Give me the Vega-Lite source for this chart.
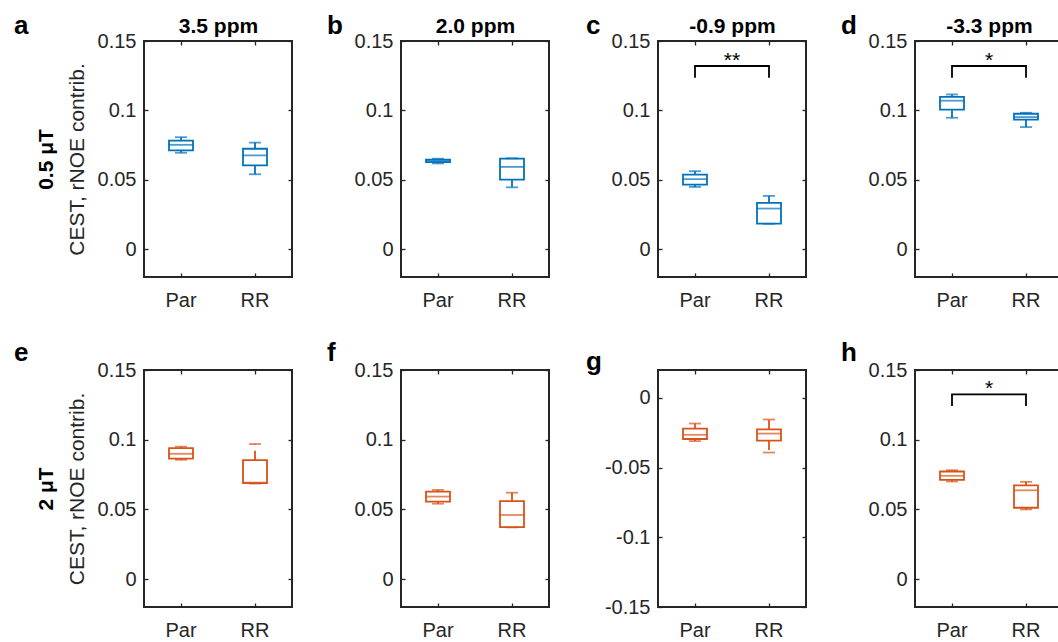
{
"$schema":"https://vega.github.io/schema/vega-lite/v6.json",
"padding":{"left":13,"top":12,"right":0,"bottom":0},
"background":"#ffffff",
"datasets":{
"boxes":[
{"panel":"a","b1":"0.5 μT","group":"Par","min":0.0695,"q1":0.0712,"median":0.0752,"q3":0.0782,"max":0.0807},
{"panel":"a","b1":"0.5 μT","group":"RR","min":0.054,"q1":0.0604,"median":0.0676,"q3":0.0724,"max":0.0768},
{"panel":"b","b1":"0.5 μT","group":"Par","min":0.0618,"q1":0.0627,"median":0.0636,"q3":0.0645,"max":0.0652},
{"panel":"b","b1":"0.5 μT","group":"RR","min":0.0446,"q1":0.0501,"median":0.0593,"q3":0.0653,"max":0.0655},
{"panel":"c","b1":"0.5 μT","group":"Par","min":0.0449,"q1":0.0465,"median":0.0505,"q3":0.0538,"max":0.0562},
{"panel":"c","b1":"0.5 μT","group":"RR","min":0.0183,"q1":0.0185,"median":0.0293,"q3":0.0334,"max":0.0384},
{"panel":"d","b1":"0.5 μT","group":"Par","min":0.0947,"q1":0.1005,"median":0.107,"q3":0.1098,"max":0.1115},
{"panel":"d","b1":"0.5 μT","group":"RR","min":0.088,"q1":0.0933,"median":0.0952,"q3":0.0976,"max":0.0983},
{"panel":"e","b1":"2 μT","group":"Par","min":0.0856,"q1":0.0864,"median":0.0899,"q3":0.0939,"max":0.095},
{"panel":"e","b1":"2 μT","group":"RR","min":0.0685,"q1":0.0688,"median":0.0692,"q3":0.0853,"max":0.0969},
{"panel":"f","b1":"2 μT","group":"Par","min":0.0541,"q1":0.0556,"median":0.0592,"q3":0.0628,"max":0.064},
{"panel":"f","b1":"2 μT","group":"RR","min":0.0371,"q1":0.0373,"median":0.046,"q3":0.056,"max":0.062},
{"panel":"g","b1":"2 μT","group":"Par","min":-0.031,"q1":-0.0295,"median":-0.0265,"q3":-0.022,"max":-0.0184},
{"panel":"g","b1":"2 μT","group":"RR","min":-0.0392,"q1":-0.0306,"median":-0.0256,"q3":-0.0226,"max":-0.0155},
{"panel":"h","b1":"2 μT","group":"Par","min":0.07,"q1":0.0712,"median":0.0741,"q3":0.0772,"max":0.0781},
{"panel":"h","b1":"2 μT","group":"RR","min":0.05,"q1":0.0512,"median":0.0637,"q3":0.0673,"max":0.0698}
],
"bracket":[
{"panel":"c","group":"Par","step":1,"y":0.1235},{"panel":"c","group":"Par","step":2,"y":0.132},{"panel":"c","group":"RR","step":3,"y":0.132},{"panel":"c","group":"RR","step":4,"y":0.1235},
{"panel":"d","group":"Par","step":1,"y":0.1235},{"panel":"d","group":"Par","step":2,"y":0.132},{"panel":"d","group":"RR","step":3,"y":0.132},{"panel":"d","group":"RR","step":4,"y":0.1235},
{"panel":"h","group":"Par","step":1,"y":0.1241},{"panel":"h","group":"Par","step":2,"y":0.1325},{"panel":"h","group":"RR","step":3,"y":0.1325},{"panel":"h","group":"RR","step":4,"y":0.1241}
],
"stars":[
{"panel":"c","group":"Par","y":0.132,"star":"**"},
{"panel":"d","group":"Par","y":0.132,"star":"*"},
{"panel":"h","group":"Par","y":0.1325,"star":"*"}
]
},
"concat":[
{"width":148,"height":236,"data":{"name":"boxes"},"transform":[{"filter":"datum.panel==='a'"}],
 "title":{"text":"a","anchor":"start","frame":"group","dx":-130,"dy":45,"fontSize":26,"baseline":"alphabetic","offset":0},
 "layer":[
  {"mark":{"type":"rule","strokeWidth":1.8,"strokeDash":[9.5,6]},"encoding":{"x":{"field":"group","type":"nominal","scale":{"type":"band","domain":["Par","RR"],"paddingInner":0,"paddingOuter":0},"axis":{"orient":"bottom","title":null}},"y":{"field":"q3","type":"quantitative","scale":{"domain":[-0.02,0.15],"nice":false,"zero":false},"axis":{"orient":"left","values":[0,0.05,0.1,0.15],"labelExpr":"''+datum.value","title":"CEST, rNOE contrib."}},"y2":{"field":"max"},"color":{"field":"b1","type":"nominal","scale":{"domain":["0.5 μT","2 μT"],"range":["#0072BD","#D95319"]},"legend":null}}},
  {"mark":{"type":"rule","strokeWidth":1.8,"strokeDash":[9.5,6]},"encoding":{"x":{"field":"group","type":"nominal","axis":null},"y":{"field":"q1","type":"quantitative","axis":null},"y2":{"field":"min"},"color":{"field":"b1","type":"nominal","legend":null}}},
  {"mark":{"type":"bar","width":24,"fill":"#ffffff","strokeWidth":1.8},"encoding":{"x":{"field":"group","type":"nominal","axis":null},"y":{"field":"q1","type":"quantitative","axis":null},"y2":{"field":"q3"},"stroke":{"field":"b1","type":"nominal","scale":{"domain":["0.5 μT","2 μT"],"range":["#0072BD","#D95319"]},"legend":null}}},
  {"mark":{"type":"tick","thickness":1.8,"size":24},"encoding":{"x":{"field":"group","type":"nominal","axis":null},"y":{"field":"median","type":"quantitative","axis":null},"color":{"field":"b1","type":"nominal","legend":null}}},
  {"mark":{"type":"tick","thickness":1.8,"size":12},"encoding":{"x":{"field":"group","type":"nominal","axis":null},"y":{"field":"max","type":"quantitative","axis":null},"color":{"field":"b1","type":"nominal","legend":null}}},
  {"mark":{"type":"tick","thickness":1.8,"size":12},"encoding":{"x":{"field":"group","type":"nominal","axis":null},"y":{"field":"min","type":"quantitative","axis":null},"color":{"field":"b1","type":"nominal","legend":null}}},
  {"mark":{"type":"point","opacity":0},"encoding":{"x":{"field":"group","type":"nominal","axis":{"orient":"top","labels":false,"title":"3.5 ppm","titleFontWeight":"bold","titleColor":"#000000","titlePadding":4}},"y":{"field":"median","type":"quantitative","axis":{"orient":"right","labels":false,"values":[0,0.05,0.1,0.15],"title":null}}}},
  {"mark":{"type":"point","opacity":0},"encoding":{"x":{"field":"group","type":"nominal","axis":null},"y":{"field":"median","type":"quantitative","axis":{"orient":"left","labels":false,"ticks":false,"offset":80,"title":"0.5 μT","titleFontWeight":"bold","titleColor":"#000000","titlePadding":8}}}}
 ],
 "resolve":{"axis":{"x":"independent","y":"independent"}}
},
{"width":148,"height":236,"data":{"name":"boxes"},"transform":[{"filter":"datum.panel==='b'"}],
 "title":{"text":"b","anchor":"start","frame":"group","dx":-74,"dy":45,"fontSize":26,"baseline":"alphabetic","offset":0},
 "layer":[
  {"mark":{"type":"rule","strokeWidth":1.8,"strokeDash":[9.5,6]},"encoding":{"x":{"field":"group","type":"nominal","scale":{"type":"band","domain":["Par","RR"],"paddingInner":0,"paddingOuter":0},"axis":{"orient":"bottom","title":null}},"y":{"field":"q3","type":"quantitative","scale":{"domain":[-0.02,0.15],"nice":false,"zero":false},"axis":{"orient":"left","values":[0,0.05,0.1,0.15],"labelExpr":"''+datum.value","title":null}},"y2":{"field":"max"},"color":{"field":"b1","type":"nominal","scale":{"domain":["0.5 μT","2 μT"],"range":["#0072BD","#D95319"]},"legend":null}}},
  {"mark":{"type":"rule","strokeWidth":1.8,"strokeDash":[9.5,6]},"encoding":{"x":{"field":"group","type":"nominal","axis":null},"y":{"field":"q1","type":"quantitative","axis":null},"y2":{"field":"min"},"color":{"field":"b1","type":"nominal","legend":null}}},
  {"mark":{"type":"bar","width":24,"fill":"#ffffff","strokeWidth":1.8},"encoding":{"x":{"field":"group","type":"nominal","axis":null},"y":{"field":"q1","type":"quantitative","axis":null},"y2":{"field":"q3"},"stroke":{"field":"b1","type":"nominal","scale":{"domain":["0.5 μT","2 μT"],"range":["#0072BD","#D95319"]},"legend":null}}},
  {"mark":{"type":"tick","thickness":1.8,"size":24},"encoding":{"x":{"field":"group","type":"nominal","axis":null},"y":{"field":"median","type":"quantitative","axis":null},"color":{"field":"b1","type":"nominal","legend":null}}},
  {"mark":{"type":"tick","thickness":1.8,"size":12},"encoding":{"x":{"field":"group","type":"nominal","axis":null},"y":{"field":"max","type":"quantitative","axis":null},"color":{"field":"b1","type":"nominal","legend":null}}},
  {"mark":{"type":"tick","thickness":1.8,"size":12},"encoding":{"x":{"field":"group","type":"nominal","axis":null},"y":{"field":"min","type":"quantitative","axis":null},"color":{"field":"b1","type":"nominal","legend":null}}},
  {"mark":{"type":"point","opacity":0},"encoding":{"x":{"field":"group","type":"nominal","axis":{"orient":"top","labels":false,"title":"2.0 ppm","titleFontWeight":"bold","titleColor":"#000000","titlePadding":4}},"y":{"field":"median","type":"quantitative","axis":{"orient":"right","labels":false,"values":[0,0.05,0.1,0.15],"title":null}}}}
 ],
 "resolve":{"axis":{"x":"independent","y":"independent"}}
},
{"width":148,"height":236,"data":{"name":"boxes"},"transform":[{"filter":"datum.panel==='c'"}],
 "title":{"text":"c","anchor":"start","frame":"group","dx":-72,"dy":45,"fontSize":26,"baseline":"alphabetic","offset":0},
 "layer":[
  {"mark":{"type":"rule","strokeWidth":1.8,"strokeDash":[9.5,6]},"encoding":{"x":{"field":"group","type":"nominal","scale":{"type":"band","domain":["Par","RR"],"paddingInner":0,"paddingOuter":0},"axis":{"orient":"bottom","title":null}},"y":{"field":"q3","type":"quantitative","scale":{"domain":[-0.02,0.15],"nice":false,"zero":false},"axis":{"orient":"left","values":[0,0.05,0.1,0.15],"labelExpr":"''+datum.value","title":null}},"y2":{"field":"max"},"color":{"field":"b1","type":"nominal","scale":{"domain":["0.5 μT","2 μT"],"range":["#0072BD","#D95319"]},"legend":null}}},
  {"mark":{"type":"rule","strokeWidth":1.8,"strokeDash":[9.5,6]},"encoding":{"x":{"field":"group","type":"nominal","axis":null},"y":{"field":"q1","type":"quantitative","axis":null},"y2":{"field":"min"},"color":{"field":"b1","type":"nominal","legend":null}}},
  {"mark":{"type":"bar","width":24,"fill":"#ffffff","strokeWidth":1.8},"encoding":{"x":{"field":"group","type":"nominal","axis":null},"y":{"field":"q1","type":"quantitative","axis":null},"y2":{"field":"q3"},"stroke":{"field":"b1","type":"nominal","scale":{"domain":["0.5 μT","2 μT"],"range":["#0072BD","#D95319"]},"legend":null}}},
  {"mark":{"type":"tick","thickness":1.8,"size":24},"encoding":{"x":{"field":"group","type":"nominal","axis":null},"y":{"field":"median","type":"quantitative","axis":null},"color":{"field":"b1","type":"nominal","legend":null}}},
  {"mark":{"type":"tick","thickness":1.8,"size":12},"encoding":{"x":{"field":"group","type":"nominal","axis":null},"y":{"field":"max","type":"quantitative","axis":null},"color":{"field":"b1","type":"nominal","legend":null}}},
  {"mark":{"type":"tick","thickness":1.8,"size":12},"encoding":{"x":{"field":"group","type":"nominal","axis":null},"y":{"field":"min","type":"quantitative","axis":null},"color":{"field":"b1","type":"nominal","legend":null}}},
  {"data":{"name":"bracket"},"transform":[{"filter":"datum.panel==='c'"}],"mark":{"type":"line","color":"#000000","strokeWidth":1.8},"encoding":{"x":{"field":"group","type":"nominal","axis":null},"y":{"field":"y","type":"quantitative","axis":null},"order":{"field":"step","type":"quantitative"}}},
  {"data":{"name":"stars"},"transform":[{"filter":"datum.panel==='c'"}],"mark":{"type":"text","fontSize":21,"baseline":"alphabetic","dy":1,"color":"#000000"},"encoding":{"x":{"field":"group","type":"nominal","bandPosition":1,"axis":null},"y":{"field":"y","type":"quantitative","axis":null},"text":{"field":"star"}}},
  {"mark":{"type":"point","opacity":0},"encoding":{"x":{"field":"group","type":"nominal","axis":{"orient":"top","labels":false,"title":"-0.9 ppm","titleFontWeight":"bold","titleColor":"#000000","titlePadding":4}},"y":{"field":"median","type":"quantitative","axis":{"orient":"right","labels":false,"values":[0,0.05,0.1,0.15],"title":null}}}}
 ],
 "resolve":{"axis":{"x":"independent","y":"independent"}}
},
{"width":148,"height":236,"data":{"name":"boxes"},"transform":[{"filter":"datum.panel==='d'"}],
 "title":{"text":"d","anchor":"start","frame":"group","dx":-74,"dy":45,"fontSize":26,"baseline":"alphabetic","offset":0},
 "layer":[
  {"mark":{"type":"rule","strokeWidth":1.8,"strokeDash":[9.5,6]},"encoding":{"x":{"field":"group","type":"nominal","scale":{"type":"band","domain":["Par","RR"],"paddingInner":0,"paddingOuter":0},"axis":{"orient":"bottom","title":null}},"y":{"field":"q3","type":"quantitative","scale":{"domain":[-0.02,0.15],"nice":false,"zero":false},"axis":{"orient":"left","values":[0,0.05,0.1,0.15],"labelExpr":"''+datum.value","title":null}},"y2":{"field":"max"},"color":{"field":"b1","type":"nominal","scale":{"domain":["0.5 μT","2 μT"],"range":["#0072BD","#D95319"]},"legend":null}}},
  {"mark":{"type":"rule","strokeWidth":1.8,"strokeDash":[9.5,6]},"encoding":{"x":{"field":"group","type":"nominal","axis":null},"y":{"field":"q1","type":"quantitative","axis":null},"y2":{"field":"min"},"color":{"field":"b1","type":"nominal","legend":null}}},
  {"mark":{"type":"bar","width":24,"fill":"#ffffff","strokeWidth":1.8},"encoding":{"x":{"field":"group","type":"nominal","axis":null},"y":{"field":"q1","type":"quantitative","axis":null},"y2":{"field":"q3"},"stroke":{"field":"b1","type":"nominal","scale":{"domain":["0.5 μT","2 μT"],"range":["#0072BD","#D95319"]},"legend":null}}},
  {"mark":{"type":"tick","thickness":1.8,"size":24},"encoding":{"x":{"field":"group","type":"nominal","axis":null},"y":{"field":"median","type":"quantitative","axis":null},"color":{"field":"b1","type":"nominal","legend":null}}},
  {"mark":{"type":"tick","thickness":1.8,"size":12},"encoding":{"x":{"field":"group","type":"nominal","axis":null},"y":{"field":"max","type":"quantitative","axis":null},"color":{"field":"b1","type":"nominal","legend":null}}},
  {"mark":{"type":"tick","thickness":1.8,"size":12},"encoding":{"x":{"field":"group","type":"nominal","axis":null},"y":{"field":"min","type":"quantitative","axis":null},"color":{"field":"b1","type":"nominal","legend":null}}},
  {"data":{"name":"bracket"},"transform":[{"filter":"datum.panel==='d'"}],"mark":{"type":"line","color":"#000000","strokeWidth":1.8},"encoding":{"x":{"field":"group","type":"nominal","axis":null},"y":{"field":"y","type":"quantitative","axis":null},"order":{"field":"step","type":"quantitative"}}},
  {"data":{"name":"stars"},"transform":[{"filter":"datum.panel==='d'"}],"mark":{"type":"text","fontSize":21,"baseline":"alphabetic","dy":1,"color":"#000000"},"encoding":{"x":{"field":"group","type":"nominal","bandPosition":1,"axis":null},"y":{"field":"y","type":"quantitative","axis":null},"text":{"field":"star"}}},
  {"mark":{"type":"point","opacity":0},"encoding":{"x":{"field":"group","type":"nominal","axis":{"orient":"top","labels":false,"title":"-3.3 ppm","titleFontWeight":"bold","titleColor":"#000000","titlePadding":4}},"y":{"field":"median","type":"quantitative","axis":{"orient":"right","labels":false,"values":[0,0.05,0.1,0.15],"title":null}}}}
 ],
 "resolve":{"axis":{"x":"independent","y":"independent"}}
},
{"width":148,"height":237,"data":{"name":"boxes"},"transform":[{"filter":"datum.panel==='e'"}],
 "title":{"text":"e","anchor":"start","frame":"group","dx":-130,"dy":36,"fontSize":26,"baseline":"alphabetic","offset":9},
 "layer":[
  {"mark":{"type":"rule","strokeWidth":1.8,"strokeDash":[9.5,6]},"encoding":{"x":{"field":"group","type":"nominal","scale":{"type":"band","domain":["Par","RR"],"paddingInner":0,"paddingOuter":0},"axis":{"orient":"bottom","title":null}},"y":{"field":"q3","type":"quantitative","scale":{"domain":[-0.02,0.15],"nice":false,"zero":false},"axis":{"orient":"left","values":[0,0.05,0.1,0.15],"labelExpr":"''+datum.value","title":"CEST, rNOE contrib."}},"y2":{"field":"max"},"color":{"field":"b1","type":"nominal","scale":{"domain":["0.5 μT","2 μT"],"range":["#0072BD","#D95319"]},"legend":null}}},
  {"mark":{"type":"rule","strokeWidth":1.8,"strokeDash":[9.5,6]},"encoding":{"x":{"field":"group","type":"nominal","axis":null},"y":{"field":"q1","type":"quantitative","axis":null},"y2":{"field":"min"},"color":{"field":"b1","type":"nominal","legend":null}}},
  {"mark":{"type":"bar","width":24,"fill":"#ffffff","strokeWidth":1.8},"encoding":{"x":{"field":"group","type":"nominal","axis":null},"y":{"field":"q1","type":"quantitative","axis":null},"y2":{"field":"q3"},"stroke":{"field":"b1","type":"nominal","scale":{"domain":["0.5 μT","2 μT"],"range":["#0072BD","#D95319"]},"legend":null}}},
  {"mark":{"type":"tick","thickness":1.8,"size":24},"encoding":{"x":{"field":"group","type":"nominal","axis":null},"y":{"field":"median","type":"quantitative","axis":null},"color":{"field":"b1","type":"nominal","legend":null}}},
  {"mark":{"type":"tick","thickness":1.8,"size":12},"encoding":{"x":{"field":"group","type":"nominal","axis":null},"y":{"field":"max","type":"quantitative","axis":null},"color":{"field":"b1","type":"nominal","legend":null}}},
  {"mark":{"type":"tick","thickness":1.8,"size":12},"encoding":{"x":{"field":"group","type":"nominal","axis":null},"y":{"field":"min","type":"quantitative","axis":null},"color":{"field":"b1","type":"nominal","legend":null}}},
  {"mark":{"type":"point","opacity":0},"encoding":{"x":{"field":"group","type":"nominal","axis":{"orient":"top","labels":false,"title":null}},"y":{"field":"median","type":"quantitative","axis":{"orient":"right","labels":false,"values":[0,0.05,0.1,0.15],"title":null}}}},
  {"mark":{"type":"point","opacity":0},"encoding":{"x":{"field":"group","type":"nominal","axis":null},"y":{"field":"median","type":"quantitative","axis":{"orient":"left","labels":false,"ticks":false,"offset":80,"title":"2 μT","titleFontWeight":"bold","titleColor":"#000000","titlePadding":8}}}}
 ],
 "resolve":{"axis":{"x":"independent","y":"independent"}}
},
{"width":148,"height":237,"data":{"name":"boxes"},"transform":[{"filter":"datum.panel==='f'"}],
 "title":{"text":"f","anchor":"start","frame":"group","dx":-74,"dy":36,"fontSize":26,"baseline":"alphabetic","offset":9},
 "layer":[
  {"mark":{"type":"rule","strokeWidth":1.8,"strokeDash":[9.5,6]},"encoding":{"x":{"field":"group","type":"nominal","scale":{"type":"band","domain":["Par","RR"],"paddingInner":0,"paddingOuter":0},"axis":{"orient":"bottom","title":null}},"y":{"field":"q3","type":"quantitative","scale":{"domain":[-0.02,0.15],"nice":false,"zero":false},"axis":{"orient":"left","values":[0,0.05,0.1,0.15],"labelExpr":"''+datum.value","title":null}},"y2":{"field":"max"},"color":{"field":"b1","type":"nominal","scale":{"domain":["0.5 μT","2 μT"],"range":["#0072BD","#D95319"]},"legend":null}}},
  {"mark":{"type":"rule","strokeWidth":1.8,"strokeDash":[9.5,6]},"encoding":{"x":{"field":"group","type":"nominal","axis":null},"y":{"field":"q1","type":"quantitative","axis":null},"y2":{"field":"min"},"color":{"field":"b1","type":"nominal","legend":null}}},
  {"mark":{"type":"bar","width":24,"fill":"#ffffff","strokeWidth":1.8},"encoding":{"x":{"field":"group","type":"nominal","axis":null},"y":{"field":"q1","type":"quantitative","axis":null},"y2":{"field":"q3"},"stroke":{"field":"b1","type":"nominal","scale":{"domain":["0.5 μT","2 μT"],"range":["#0072BD","#D95319"]},"legend":null}}},
  {"mark":{"type":"tick","thickness":1.8,"size":24},"encoding":{"x":{"field":"group","type":"nominal","axis":null},"y":{"field":"median","type":"quantitative","axis":null},"color":{"field":"b1","type":"nominal","legend":null}}},
  {"mark":{"type":"tick","thickness":1.8,"size":12},"encoding":{"x":{"field":"group","type":"nominal","axis":null},"y":{"field":"max","type":"quantitative","axis":null},"color":{"field":"b1","type":"nominal","legend":null}}},
  {"mark":{"type":"tick","thickness":1.8,"size":12},"encoding":{"x":{"field":"group","type":"nominal","axis":null},"y":{"field":"min","type":"quantitative","axis":null},"color":{"field":"b1","type":"nominal","legend":null}}},
  {"mark":{"type":"point","opacity":0},"encoding":{"x":{"field":"group","type":"nominal","axis":{"orient":"top","labels":false,"title":null}},"y":{"field":"median","type":"quantitative","axis":{"orient":"right","labels":false,"values":[0,0.05,0.1,0.15],"title":null}}}}
 ],
 "resolve":{"axis":{"x":"independent","y":"independent"}}
},
{"width":148,"height":237,"data":{"name":"boxes"},"transform":[{"filter":"datum.panel==='g'"}],
 "title":{"text":"g","anchor":"start","frame":"group","dx":-72,"dy":36,"fontSize":26,"baseline":"alphabetic","offset":9},
 "layer":[
  {"mark":{"type":"rule","strokeWidth":1.8,"strokeDash":[9.5,6]},"encoding":{"x":{"field":"group","type":"nominal","scale":{"type":"band","domain":["Par","RR"],"paddingInner":0,"paddingOuter":0},"axis":{"orient":"bottom","title":null}},"y":{"field":"q3","type":"quantitative","scale":{"domain":[-0.15,0.02],"nice":false,"zero":false},"axis":{"orient":"left","values":[-0.15,-0.1,-0.05,0],"labelExpr":"''+datum.value","title":null}},"y2":{"field":"max"},"color":{"field":"b1","type":"nominal","scale":{"domain":["0.5 μT","2 μT"],"range":["#0072BD","#D95319"]},"legend":null}}},
  {"mark":{"type":"rule","strokeWidth":1.8,"strokeDash":[9.5,6]},"encoding":{"x":{"field":"group","type":"nominal","axis":null},"y":{"field":"q1","type":"quantitative","axis":null},"y2":{"field":"min"},"color":{"field":"b1","type":"nominal","legend":null}}},
  {"mark":{"type":"bar","width":24,"fill":"#ffffff","strokeWidth":1.8},"encoding":{"x":{"field":"group","type":"nominal","axis":null},"y":{"field":"q1","type":"quantitative","axis":null},"y2":{"field":"q3"},"stroke":{"field":"b1","type":"nominal","scale":{"domain":["0.5 μT","2 μT"],"range":["#0072BD","#D95319"]},"legend":null}}},
  {"mark":{"type":"tick","thickness":1.8,"size":24},"encoding":{"x":{"field":"group","type":"nominal","axis":null},"y":{"field":"median","type":"quantitative","axis":null},"color":{"field":"b1","type":"nominal","legend":null}}},
  {"mark":{"type":"tick","thickness":1.8,"size":12},"encoding":{"x":{"field":"group","type":"nominal","axis":null},"y":{"field":"max","type":"quantitative","axis":null},"color":{"field":"b1","type":"nominal","legend":null}}},
  {"mark":{"type":"tick","thickness":1.8,"size":12},"encoding":{"x":{"field":"group","type":"nominal","axis":null},"y":{"field":"min","type":"quantitative","axis":null},"color":{"field":"b1","type":"nominal","legend":null}}},
  {"mark":{"type":"point","opacity":0},"encoding":{"x":{"field":"group","type":"nominal","axis":{"orient":"top","labels":false,"title":null}},"y":{"field":"median","type":"quantitative","axis":{"orient":"right","labels":false,"values":[-0.15,-0.1,-0.05,0],"title":null}}}}
 ],
 "resolve":{"axis":{"x":"independent","y":"independent"}}
},
{"width":148,"height":237,"data":{"name":"boxes"},"transform":[{"filter":"datum.panel==='h'"}],
 "title":{"text":"h","anchor":"start","frame":"group","dx":-74,"dy":36,"fontSize":26,"baseline":"alphabetic","offset":9},
 "layer":[
  {"mark":{"type":"rule","strokeWidth":1.8,"strokeDash":[9.5,6]},"encoding":{"x":{"field":"group","type":"nominal","scale":{"type":"band","domain":["Par","RR"],"paddingInner":0,"paddingOuter":0},"axis":{"orient":"bottom","title":null}},"y":{"field":"q3","type":"quantitative","scale":{"domain":[-0.02,0.15],"nice":false,"zero":false},"axis":{"orient":"left","values":[0,0.05,0.1,0.15],"labelExpr":"''+datum.value","title":null}},"y2":{"field":"max"},"color":{"field":"b1","type":"nominal","scale":{"domain":["0.5 μT","2 μT"],"range":["#0072BD","#D95319"]},"legend":null}}},
  {"mark":{"type":"rule","strokeWidth":1.8,"strokeDash":[9.5,6]},"encoding":{"x":{"field":"group","type":"nominal","axis":null},"y":{"field":"q1","type":"quantitative","axis":null},"y2":{"field":"min"},"color":{"field":"b1","type":"nominal","legend":null}}},
  {"mark":{"type":"bar","width":24,"fill":"#ffffff","strokeWidth":1.8},"encoding":{"x":{"field":"group","type":"nominal","axis":null},"y":{"field":"q1","type":"quantitative","axis":null},"y2":{"field":"q3"},"stroke":{"field":"b1","type":"nominal","scale":{"domain":["0.5 μT","2 μT"],"range":["#0072BD","#D95319"]},"legend":null}}},
  {"mark":{"type":"tick","thickness":1.8,"size":24},"encoding":{"x":{"field":"group","type":"nominal","axis":null},"y":{"field":"median","type":"quantitative","axis":null},"color":{"field":"b1","type":"nominal","legend":null}}},
  {"mark":{"type":"tick","thickness":1.8,"size":12},"encoding":{"x":{"field":"group","type":"nominal","axis":null},"y":{"field":"max","type":"quantitative","axis":null},"color":{"field":"b1","type":"nominal","legend":null}}},
  {"mark":{"type":"tick","thickness":1.8,"size":12},"encoding":{"x":{"field":"group","type":"nominal","axis":null},"y":{"field":"min","type":"quantitative","axis":null},"color":{"field":"b1","type":"nominal","legend":null}}},
  {"data":{"name":"bracket"},"transform":[{"filter":"datum.panel==='h'"}],"mark":{"type":"line","color":"#000000","strokeWidth":1.8},"encoding":{"x":{"field":"group","type":"nominal","axis":null},"y":{"field":"y","type":"quantitative","axis":null},"order":{"field":"step","type":"quantitative"}}},
  {"data":{"name":"stars"},"transform":[{"filter":"datum.panel==='h'"}],"mark":{"type":"text","fontSize":21,"baseline":"alphabetic","dy":1,"color":"#000000"},"encoding":{"x":{"field":"group","type":"nominal","bandPosition":1,"axis":null},"y":{"field":"y","type":"quantitative","axis":null},"text":{"field":"star"}}},
  {"mark":{"type":"point","opacity":0},"encoding":{"x":{"field":"group","type":"nominal","axis":{"orient":"top","labels":false,"title":null}},"y":{"field":"median","type":"quantitative","axis":{"orient":"right","labels":false,"values":[0,0.05,0.1,0.15],"title":null}}}}
 ],
 "resolve":{"axis":{"x":"independent","y":"independent"}}
}
],
"columns":4,
"spacing":{"row":93,"column":109},
"bounds":"flush",
"config":{
 "font":"Liberation Sans",
 "view":{"stroke":"#262626","strokeWidth":2},
 "axis":{"domain":false,"grid":false,"tickSize":-4,"tickColor":"#262626","tickWidth":1.3,"labelFont":"Liberation Sans","labelFontSize":20,"labelColor":"#262626","titleFont":"Liberation Sans","titleFontSize":21,"titleColor":"#262626","titleFontWeight":"normal"},
 "axisX":{"labelAngle":0,"labelPadding":17},
 "axisY":{"labelPadding":12,"titlePadding":10},
 "title":{"font":"Liberation Sans","color":"#000000","fontWeight":"bold"}
}
}
